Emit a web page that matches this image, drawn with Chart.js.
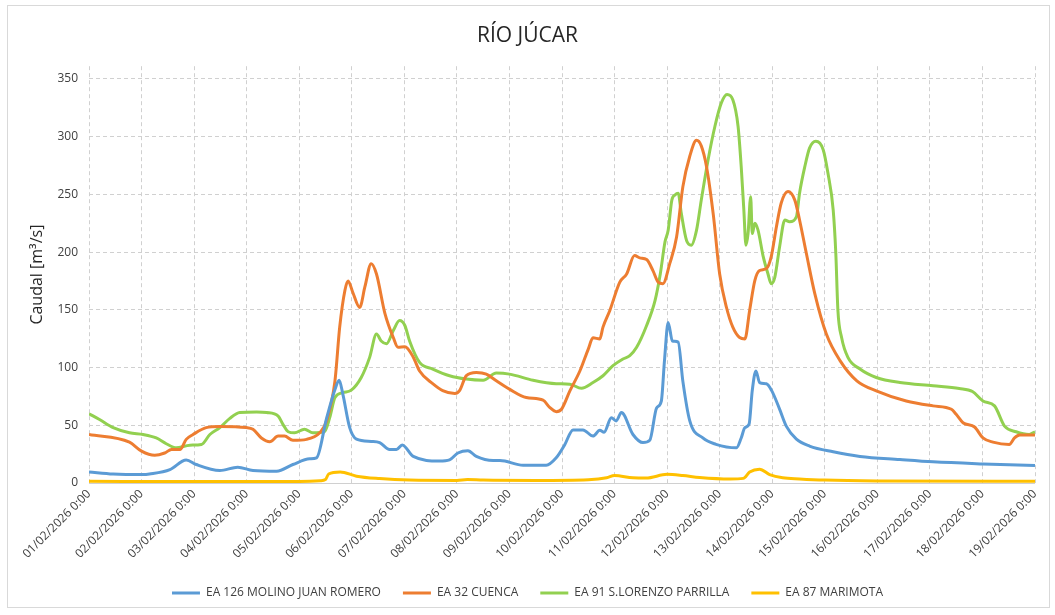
<!DOCTYPE html>
<html>
<head>
<meta charset="utf-8">
<script src="https://cdn.jsdelivr.net/npm/chart.js@4"></script>
<style>
    html, body { margin: 0; padding: 0; background: #fff; }
    #frame {
        position: absolute; left: 7px; top: 5px;
        width: 1041px; height: 601px;
        border: 1px solid #d9d9d9;
    }
    #wrap { position: absolute; left: 0; top: 0; width: 1055px; height: 615px; }
</style>
</head>
<body>
<div id="frame"></div>
<div id="wrap"><canvas id="riverChart" width="1055" height="615"></canvas></div>
<script>
// Days since 01/02/2026 0:00 and flow (m3/s)
const DAY_LABELS = ['01','02','03','04','05','06','07','08','09','10',
    '11','12','13','14','15','16','17','18','19'];

// EA 126 MOLINO JUAN ROMERO
const t126 = [0, 0.46, 1.03, 1.15, 1.54, 1.85, 2.04, 2.49, 2.83, 3.12, 3.57, 3.88, 4.2, 4.33, 4.52, 4.68, 4.76, 4.83, 4.96, 5.09,
    5.37, 5.53, 5.72, 5.85, 5.96, 6.17, 6.67, 6.86, 7.02, 7.21, 7.37, 7.69, 7.82, 8.26, 8.7, 8.89, 9.05, 9.21, 9.4, 9.59,
    9.72, 9.8, 9.94, 10.03, 10.13, 10.35, 10.54, 10.67, 10.8, 10.89, 10.95, 11.02, 11.1, 11.21, 11.3, 11.43, 11.68, 11.93, 12.32, 12.41,
    12.48, 12.56, 12.62, 12.69, 12.76, 12.89, 12.99, 13.14, 13.27, 13.46, 13.71, 14.16, 14.67, 15.43, 16.06, 17.01, 18];
const q126 = [9.6, 7.8, 7.3, 7.8, 11.6, 20, 16, 10.8, 13.7, 10.8, 10.2, 16, 20.9, 21.8, 56, 81, 89, 77, 48, 38,
    36, 35, 29, 29, 33, 23, 19, 20, 26, 28, 23, 19.5, 19.5, 15.4, 15.4, 21.8, 33, 46, 46, 40.6,
    45.6, 44, 56.6, 53.7, 61, 42, 35, 37, 65, 71, 106, 139, 123, 122, 88, 54, 39, 33.5, 30.5, 39,
    48, 51, 80, 97, 87, 86, 80, 64, 49, 38, 32, 27, 23, 20.3, 18.3, 16.5, 15.1];

// EA 32 CUENCA
const t32 = [0, 0.77, 1.0, 1.25, 1.44, 1.57, 1.73, 1.85, 1.98, 2.23, 2.49, 2.99, 3.12, 3.28, 3.44, 3.6, 3.72, 3.88, 4.14, 4.39,
    4.52, 4.68, 4.77, 4.87, 4.93, 5.02, 5.15, 5.25, 5.37, 5.47, 5.63, 5.79, 5.88, 6.01, 6.17, 6.29, 6.54, 6.73, 6.96, 7.05,
    7.18, 7.37, 7.56, 7.75, 8.0, 8.32, 8.64, 8.77, 8.89, 8.99, 9.15, 9.34, 9.5, 9.59, 9.72, 9.78, 9.91, 10.1, 10.23, 10.38,
    10.48, 10.61, 10.73, 10.83, 10.92, 11.05, 11.18, 11.3, 11.43, 11.56, 11.65, 11.75, 11.88, 12.0, 12.13, 12.25, 12.38, 12.48, 12.57, 12.67,
    12.76, 12.89, 12.98, 13.08, 13.17, 13.3, 13.43, 13.52, 13.65, 13.81, 14.03, 14.29, 14.61, 14.98, 15.55, 16.06, 16.41, 16.5, 16.63, 16.85,
    17.01, 17.2, 17.51, 17.61, 17.71, 18];
const q32 = [42, 35.4, 27.6, 24, 26, 29, 29, 37.8, 42, 48, 49, 48, 46.5, 39, 35.7, 40.6, 40.6, 37, 37.8, 43.5,
    53.7, 88.5, 135, 167, 175, 165, 152, 170, 190, 181, 147, 126, 117.5, 118, 109, 97, 86, 80, 77.5, 80,
    93, 95.7, 94.3, 88.5, 81.3, 74, 71.7, 65.3, 61.8, 63.9, 79.8, 97, 116, 125.7, 124.8, 135, 149.4, 174, 181, 197,
    195, 193.5, 184, 174, 172.6, 190, 213, 256.7, 282.8, 296.8, 292, 274, 232, 181, 152, 135, 126, 124.8, 149.4, 175.5,
    184, 185.7, 195.8, 222, 242.3, 252.4, 245, 227.8, 198.8, 164, 129, 106, 88.5, 79.8, 71, 66.8, 63.9, 59.5, 52.2, 48.5,
    39, 35.4, 33.4, 39, 41.5, 41.5];

// EA 91 S.LORENZO PARRILLA
const t91 = [0, 0.2, 0.46, 0.77, 1.03, 1.28, 1.47, 1.66, 1.92, 2.14, 2.3, 2.49, 2.68, 2.87, 3.19, 3.38, 3.6, 3.69, 3.79, 3.91,
    4.1, 4.26, 4.48, 4.58, 4.68, 4.83, 4.99, 5.18, 5.34, 5.47, 5.56, 5.66, 5.79, 5.91, 6.01, 6.1, 6.29, 6.54, 6.86, 7.18,
    7.5, 7.75, 8.0, 8.45, 8.89, 9.15, 9.37, 9.59, 9.78, 9.97, 10.16, 10.29, 10.42, 10.61, 10.77, 10.87, 10.96, 11.02, 11.09, 11.15,
    11.21, 11.27, 11.37, 11.46, 11.56, 11.65, 11.78, 11.91, 12.03, 12.14, 12.25, 12.35, 12.41, 12.46, 12.5, 12.54, 12.59, 12.62, 12.67, 12.73,
    12.83, 12.92, 12.98, 13.05, 13.14, 13.24, 13.33, 13.46, 13.52, 13.62, 13.71, 13.83, 13.97, 14.06, 14.16, 14.21, 14.25, 14.32, 14.44, 14.67,
    14.98, 15.43, 16.06, 16.56, 16.81, 17.01, 17.23, 17.42, 17.64, 17.89, 18];
const q91 = [60, 55, 48, 43.5, 42, 39, 34, 30.5, 32.8, 33.4, 42, 48, 56, 61, 61.5, 61, 58, 50.8, 44.4, 43.5,
    46.5, 43.5, 44.4, 56.6, 74, 78.3, 80.4, 91.4, 108.8, 129, 123, 120.5, 132, 140.7, 136.4, 123, 104.4, 98.7, 92.9, 90,
    89, 95.2, 94.3, 89, 86, 85.6, 82, 87, 92.9, 101.6, 107.4, 110.3, 117.5, 136.4, 158, 181, 208.9, 219, 245, 249.5,
    251, 233.6, 210, 206, 219, 245, 280, 309, 329, 336.5, 332, 309, 274, 236.5, 206, 216, 248, 216, 225, 219,
    195.8, 181, 172.6, 178.4, 204.5, 227.8, 226.3, 230.6, 251, 274, 290, 296, 288.7, 268.4, 236.5, 198.8, 149.4, 126, 108.8, 98.7,
    91.4, 87, 84.2, 81.8, 79.2, 71, 66.8, 49.3, 44.4, 42, 44.4];

// EA 87 MARIMOTA
const t87 = [0, 2, 4, 4.4, 4.5, 4.56, 4.78, 5.09, 5.53, 6.1, 7.0, 7.2, 7.5, 8.5, 9.5, 9.85, 10.0, 10.35, 10.6, 11.0,
    11.3, 11.62, 12.2, 12.45, 12.57, 12.76, 12.95, 13.2, 13.52, 14, 15, 18];
const q87 = [1.5, 1.2, 1.3, 2, 3, 7.8, 9.6, 5.9, 3.8, 2.5, 2.2, 3, 2.5, 2.2, 2.8, 4.5, 6.5, 4.5, 4.3, 7.5,
    6.5, 4.8, 3.5, 4, 9.5, 12, 7.3, 4.5, 3.5, 2.5, 1.8, 1.5];

const Y_MAX = 361;
const Y_STEP = 50;

function toPoints(t, q) {
    return t.map((x, i) => ({ x: x, y: q[i] }));
}

function makeSeries(label, t, q, color) {
    return {
        label: label,
        data: toPoints(t, q),
        borderColor: color,
        backgroundColor: color,
        borderWidth: 3,
        pointRadius: 0,
        cubicInterpolationMode: 'monotone',
        fill: false
    };
}

const FONT = '"Open Sans", "Noto Sans", sans-serif';
const GRID_COLOR = '#d0d0d0';
const TEXT_COLOR = '#404040';

const ctx = document.getElementById('riverChart').getContext('2d');
new Chart(ctx, {
    type: 'line',
    data: {
        datasets: [
            makeSeries('EA 126 MOLINO JUAN ROMERO', t126, q126, '#5b9bd5'),
            makeSeries('EA 32 CUENCA', t32, q32, '#ed7d31'),
            makeSeries('EA 91 S.LORENZO PARRILLA', t91, q91, '#92d050'),
            makeSeries('EA 87 MARIMOTA', t87, q87, '#ffc000')
        ]
    },
    options: {
        responsive: false,
        animation: false,
        layout: {
            padding: { left: 20, right: 20, top: 0, bottom: 6 }
        },
        plugins: {
            title: {
                display: true,
                text: 'RÍO JÚCAR',
                color: '#262626',
                font: { family: FONT, size: 21, weight: 'normal' },
                padding: { top: 23, bottom: 18 }
            },
            legend: {
                position: 'bottom',
                labels: {
                    usePointStyle: true,
                    pointStyle: 'line',
                    pointStyleWidth: 28,
                    boxHeight: 12,
                    padding: 22,
                    color: TEXT_COLOR,
                    font: { family: FONT, size: 12 }
                }
            },
            tooltip: { enabled: false }
        },
        scales: {
            x: {
                type: 'linear',
                min: 0,
                max: DAY_LABELS.length - 1,
                afterFit: function(scale) { scale.height = 82; },
                ticks: {
                    stepSize: 1,
                    autoSkip: false,
                    maxRotation: 45,
                    minRotation: 45,
                    padding: 4,
                    color: TEXT_COLOR,
                    font: { family: FONT, size: 12 },
                    callback: function(value) {
                        return DAY_LABELS[value] + '/02/2026 0:00';
                    }
                },
                grid: {
                    color: GRID_COLOR,
                    drawTicks: false
                },
                border: { display: false, dash: [4, 3] }
            },
            y: {
                min: 0,
                max: Y_MAX,
                afterFit: function(scale) { scale.width = 69; },
                title: {
                    display: true,
                    text: 'Caudal [m³/s]',
                    color: '#262626',
                    font: { family: FONT, size: 16 },
                    padding: { top: 8, bottom: 0 }
                },
                ticks: {
                    stepSize: Y_STEP,
                    includeBounds: false,
                    padding: 11,
                    color: TEXT_COLOR,
                    font: { family: FONT, size: 12 }
                },
                grid: {
                    color: GRID_COLOR,
                    drawTicks: false
                },
                border: {
                    display: false,
                    dash: function(c) {
                        return (c.tick && c.tick.value === 0) ? [] : [4, 3];
                    }
                }
            }
        }
    }
});
</script>
</body>
</html>
